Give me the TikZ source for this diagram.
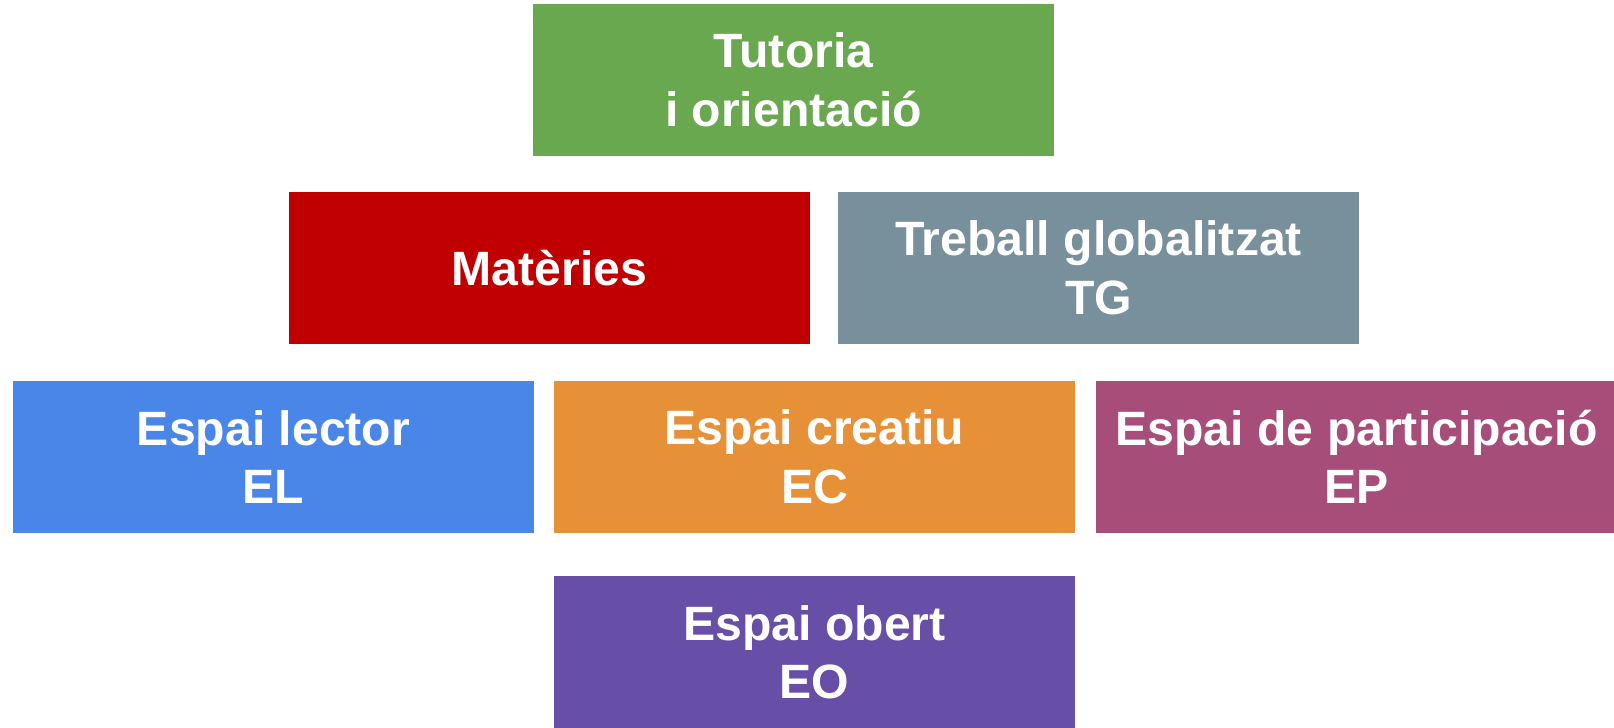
\documentclass[tikz,border=0pt]{standalone}
\usepackage{fontspec}
\setmainfont{Liberation Sans}
\usepackage{tikz}

\definecolor{verd}{HTML}{6AA84F}
\definecolor{vermell}{HTML}{C00000}
\definecolor{gris}{HTML}{78909C}
\definecolor{blau}{HTML}{4A86E8}
\definecolor{taronja}{HTML}{E69138}
\definecolor{magenta}{HTML}{A64D79}
\definecolor{lila}{HTML}{674EA7}

\tikzset{
    espai/.style={rectangle, inner sep=0pt, minimum width=5.21cm, minimum height=1.517cm,
        text=white, align=center, font=\fontsize{13.7pt}{16.6pt}\selectfont\bfseries}
}

\begin{document}
\begin{tikzpicture}[x=0.01cm, y=0.01cm]

\useasboundingbox (0,0) rectangle (1614,728);

% Fila superior
\node[espai, fill=verd] (tutoria) at (793.5,648.15) {Tutoria\\i orientació};

% Segona fila
\node[espai, fill=vermell] (materies) at (549.5,460.15) {Matèries};
\node[espai, fill=gris] (treball) at (1098.5,460.15) {Treball globalitzat\\TG};

% Els tres espais
\node[espai, fill=blau] (lector) at (273.5,271.15) {Espai lector\\EL};
\node[espai, fill=taronja] (creatiu) at (814.5,271.15) {Espai creatiu\\EC};
\node[espai, fill=magenta] (participacio) at (1356.5,271.15) {Espai de participació\\EP};

% Fila inferior
\node[espai, fill=lila] (obert) at (814.5,76) {Espai obert\\EO};

\end{tikzpicture}
\end{document}
